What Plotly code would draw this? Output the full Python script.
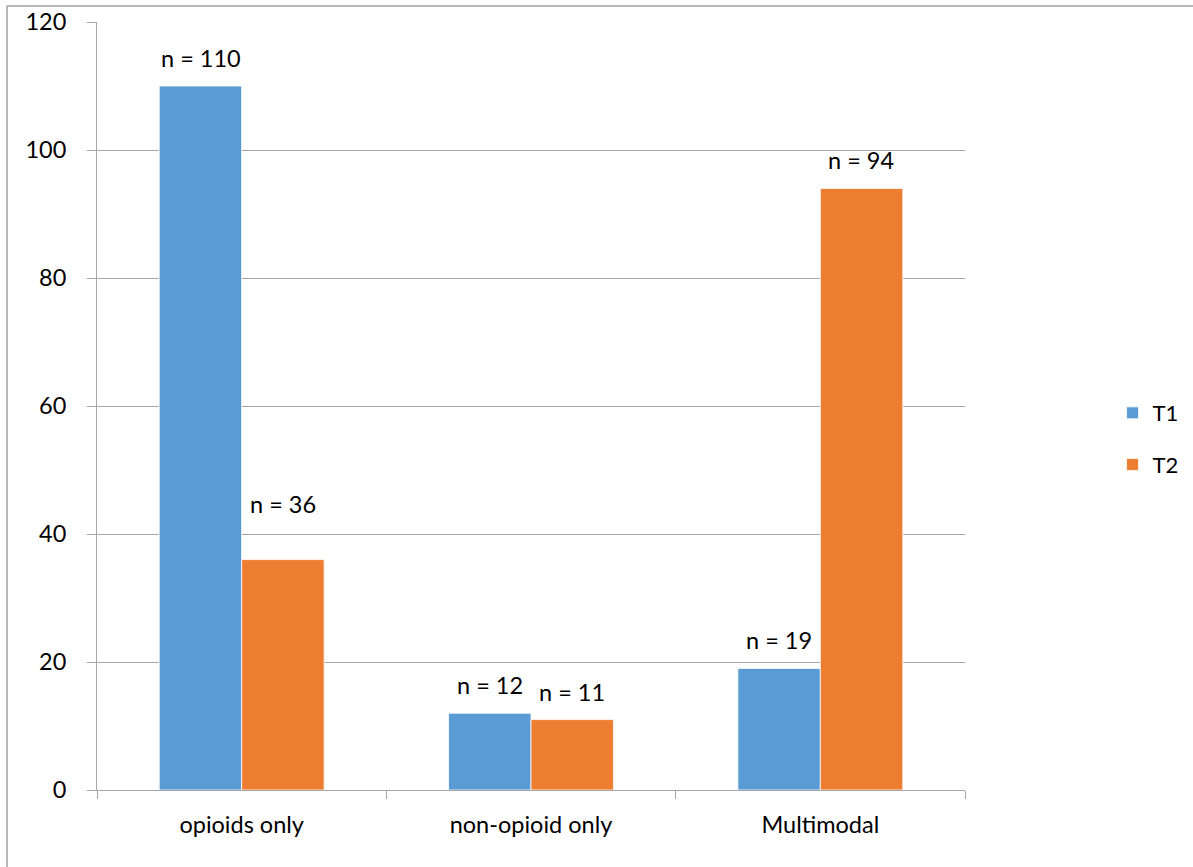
import plotly.graph_objects as go

categories = ["opioids only", "non-opioid only", "Multimodal"]
t1_values = [110, 12, 19]
t2_values = [36, 11, 94]
series_names = ["T1", "T2"]
colors = ["#5B9BD5", "#ED7D31"]
y_ticks = [0, 20, 40, 60, 80, 100, 120]

FONT = "Lato"
GRID = "#a6a6a6"
FS = 23.5

fig = go.Figure()
for i, (name, vals) in enumerate(zip(series_names, [t1_values, t2_values])):
    fig.add_trace(go.Bar(
        x=categories, y=vals, name=name,
        marker=dict(color=colors[i], line=dict(color="white", width=0.8)),
        legendgroup=name,
    ))

# value labels above each bar
offsets = [-41, 41]
for i, vals in enumerate([t1_values, t2_values]):
    for cat, v in zip(categories, vals):
        extra = 28 if (cat == "opioids only" and i == 1) else 0
        fig.add_annotation(
            x=cat, y=v, text=f"n = {v}", showarrow=False,
            xshift=offsets[i], yshift=12 + extra, yanchor="bottom",
            font=dict(family=FONT, size=FS, color="#000"),
        )

# chart frame (left and top edges)
fig.add_shape(type="line", xref="paper", yref="paper",
              x0=-0.1037, x1=1.3, y0=1.0208, y1=1.0208,
              line=dict(color="#a0a0a0", width=1.5))
fig.add_shape(type="line", xref="paper", yref="paper",
              x0=-0.1037, x1=-0.1037, y0=-0.2, y1=1.0208,
              line=dict(color="#a0a0a0", width=1.5))

fig.update_layout(
    width=1193, height=867,
    margin=dict(l=97, r=228, t=22, b=77, autoexpand=False),
    paper_bgcolor="white", plot_bgcolor="white",
    bargap=0.43, bargroupgap=0,
    font=dict(family=FONT, size=FS, color="#000"),
    legend=dict(x=1.170, y=0.457, xanchor="left", yanchor="middle",
                font=dict(family=FONT, size=22), tracegroupgap=20,
                traceorder="grouped", itemwidth=30),
    showlegend=True,
)
fig.update_xaxes(
    showline=True, linecolor=GRID, linewidth=1,
    ticks="outside", tickson="boundaries", ticklen=8, tickcolor=GRID,
    showgrid=False, tickfont=dict(size=FS), ticklabelstandoff=14,
)
fig.update_yaxes(
    range=[0, 120], tickvals=y_ticks, showgrid=True, gridcolor=GRID,
    showline=True, linecolor=GRID, ticks="outside", ticklen=9, tickcolor=GRID,
    tickfont=dict(size=FS), zeroline=False, ticklabelstandoff=16,
)

fig.write_html("out.html")
